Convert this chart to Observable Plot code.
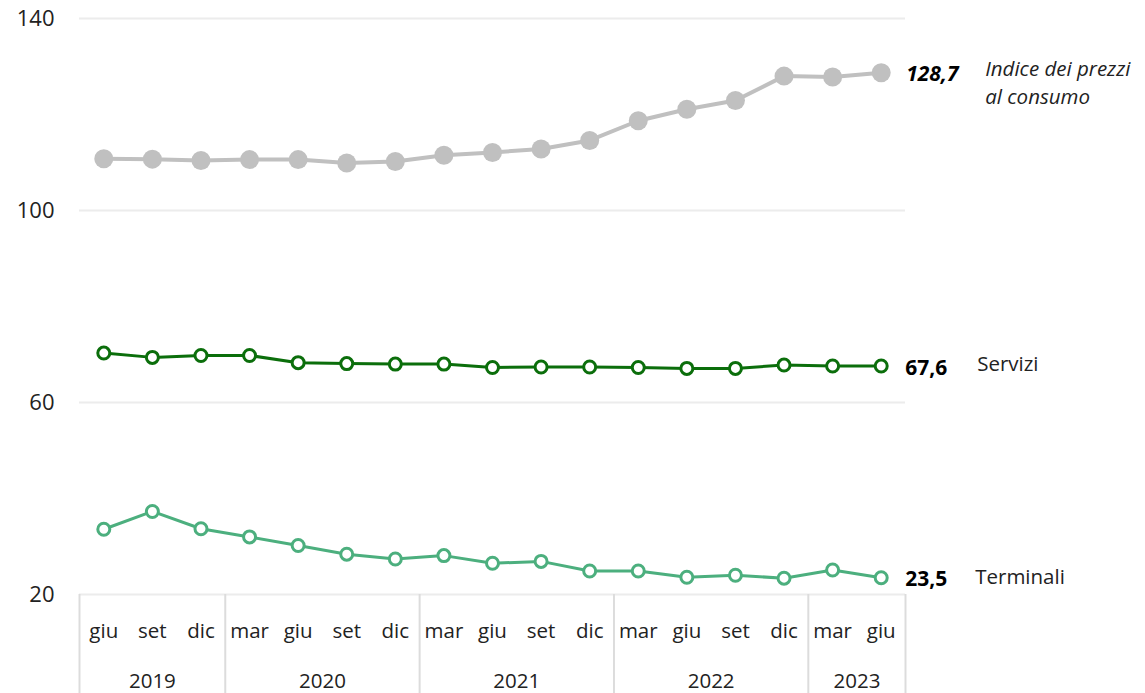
<!DOCTYPE html>
<html>
<head>
<meta charset="utf-8">
<script src="https://cdn.jsdelivr.net/npm/d3@7"></script>
<script src="https://cdn.jsdelivr.net/npm/@observablehq/plot@0.6"></script>
<style>
  html, body { margin: 0; padding: 0; background: #fff; }
  #chart svg { display: block; }
</style>
</head>
<body>
<div id="chart"></div>
<script>
const months = ["giu","set","dic","mar","giu","set","dic","mar","giu","set","dic","mar","giu","set","dic","mar","giu"];
const years = ["2019","2020","2021","2022","2023"];
const yearOfPeriod = [0,0,0,1,1,1,1,2,2,2,2,3,3,3,3,4,4];
const cpi = [110.8,110.7,110.4,110.6,110.6,109.9,110.2,111.5,112.1,112.8,114.6,118.7,121.1,122.9,128.0,127.8,128.7];
const servizi = [70.3,69.4,69.8,69.8,68.3,68.1,68.0,68.0,67.3,67.4,67.4,67.3,67.1,67.1,67.8,67.6,67.6];
const terminali = [33.6,37.3,33.7,32.0,30.2,28.4,27.4,28.1,26.5,26.9,24.9,24.9,23.6,24.0,23.4,25.1,23.5];
const seriesNames = ["Indice dei prezzi\nal consumo","Servizi","Terminali"];
const yTicks = [20,60,100,140];

const idx = months.map((_, i) => i);
const mk = (vals) => idx.map(i => ({i, v: vals[i]}));
const dCpi = mk(cpi), dSer = mk(servizi), dTer = mk(terminali);
const last = idx.length - 1;
const fmt = v => v.toFixed(1).replace(".", ",");

const yearCenters = years.map((y, k) => {
  const ii = idx.filter(i => yearOfPeriod[i] === k);
  return (ii[0] + ii[ii.length - 1]) / 2;
});
const bounds = [-0.5, ...idx.filter(i => i > 0 && yearOfPeriod[i] !== yearOfPeriod[i-1]).map(i => i - 0.5), last + 0.5];

const font = "'Open Sans', 'Noto Sans', sans-serif";
const C_CPI = "#c0c0c0", C_SER = "#0b6e0b", C_TER = "#4caf7e";
const FS = 20.5;

const chart = Plot.plot({
  width: 1145,
  height: 693,
  marginLeft: 79,
  marginRight: 240,
  marginTop: 18,
  marginBottom: 99,
  style: {fontFamily: font, fontSize: FS + "px", color: "#222", background: "#fff"},
  x: {type: "linear", domain: [-0.5, last + 0.5]},
  y: {domain: [20, 140]},
  marks: [
    Plot.ruleY(yTicks, {stroke: "#ececec", strokeWidth: 2}),
    Plot.axisY({ticks: yTicks, tickSize: 0, tickPadding: 25, label: null, fontSize: 22, fill: "#222"}),
    Plot.axisX({ticks: bounds, tickSize: 99, tickFormat: () => "", stroke: "#dcdcdc", strokeWidth: 2, label: null}),
    Plot.axisX({ticks: idx, tickSize: 0, tickPadding: 29, tickFormat: i => months[i], label: null, fontSize: FS, fill: "#222"}),
    Plot.axisX({ticks: yearCenters, tickSize: 0, tickPadding: 79, tickFormat: (c) => years[yearCenters.indexOf(c)], label: null, fontSize: FS, fill: "#222"}),

    Plot.line(dCpi, {x: "i", y: "v", stroke: C_CPI, strokeWidth: 4}),
    Plot.dot(dCpi, {x: "i", y: "v", r: 9.5, fill: C_CPI, stroke: "none"}),

    Plot.line(dSer, {x: "i", y: "v", stroke: C_SER, strokeWidth: 3}),
    Plot.dot(dSer, {x: "i", y: "v", r: 6, fill: "#fff", stroke: C_SER, strokeWidth: 3}),

    Plot.line(dTer, {x: "i", y: "v", stroke: C_TER, strokeWidth: 3}),
    Plot.dot(dTer, {x: "i", y: "v", r: 6, fill: "#fff", stroke: C_TER, strokeWidth: 3}),

    Plot.text([dCpi[last]], {x: "i", y: "v", text: d => fmt(d.v), dx: 25, dy: 2, textAnchor: "start", fontWeight: "bold", fontStyle: "italic", fill: "#000", fontSize: 21}),
    Plot.text([dSer[last]], {x: "i", y: "v", text: d => fmt(d.v), dx: 24, dy: 2, textAnchor: "start", fontWeight: "bold", fill: "#000", fontSize: 21}),
    Plot.text([dTer[last]], {x: "i", y: "v", text: d => fmt(d.v), dx: 24, dy: 2, textAnchor: "start", fontWeight: "bold", fill: "#000", fontSize: 21}),

    Plot.text([dCpi[last]], {x: "i", y: "v", text: () => seriesNames[0], dx: 104, dy: 8, textAnchor: "start", fontStyle: "italic", fill: "#222", fontSize: FS, lineHeight: 1.4}),
    Plot.text([dSer[last]], {x: "i", y: "v", text: () => seriesNames[1], dx: 96, dy: -2, textAnchor: "start", fill: "#222", fontSize: FS}),
    Plot.text([dTer[last]], {x: "i", y: "v", text: () => seriesNames[2], dx: 94, textAnchor: "start", fill: "#222", fontSize: FS})
  ]
});
document.getElementById("chart").appendChild(chart);
</script>
</body>
</html>
